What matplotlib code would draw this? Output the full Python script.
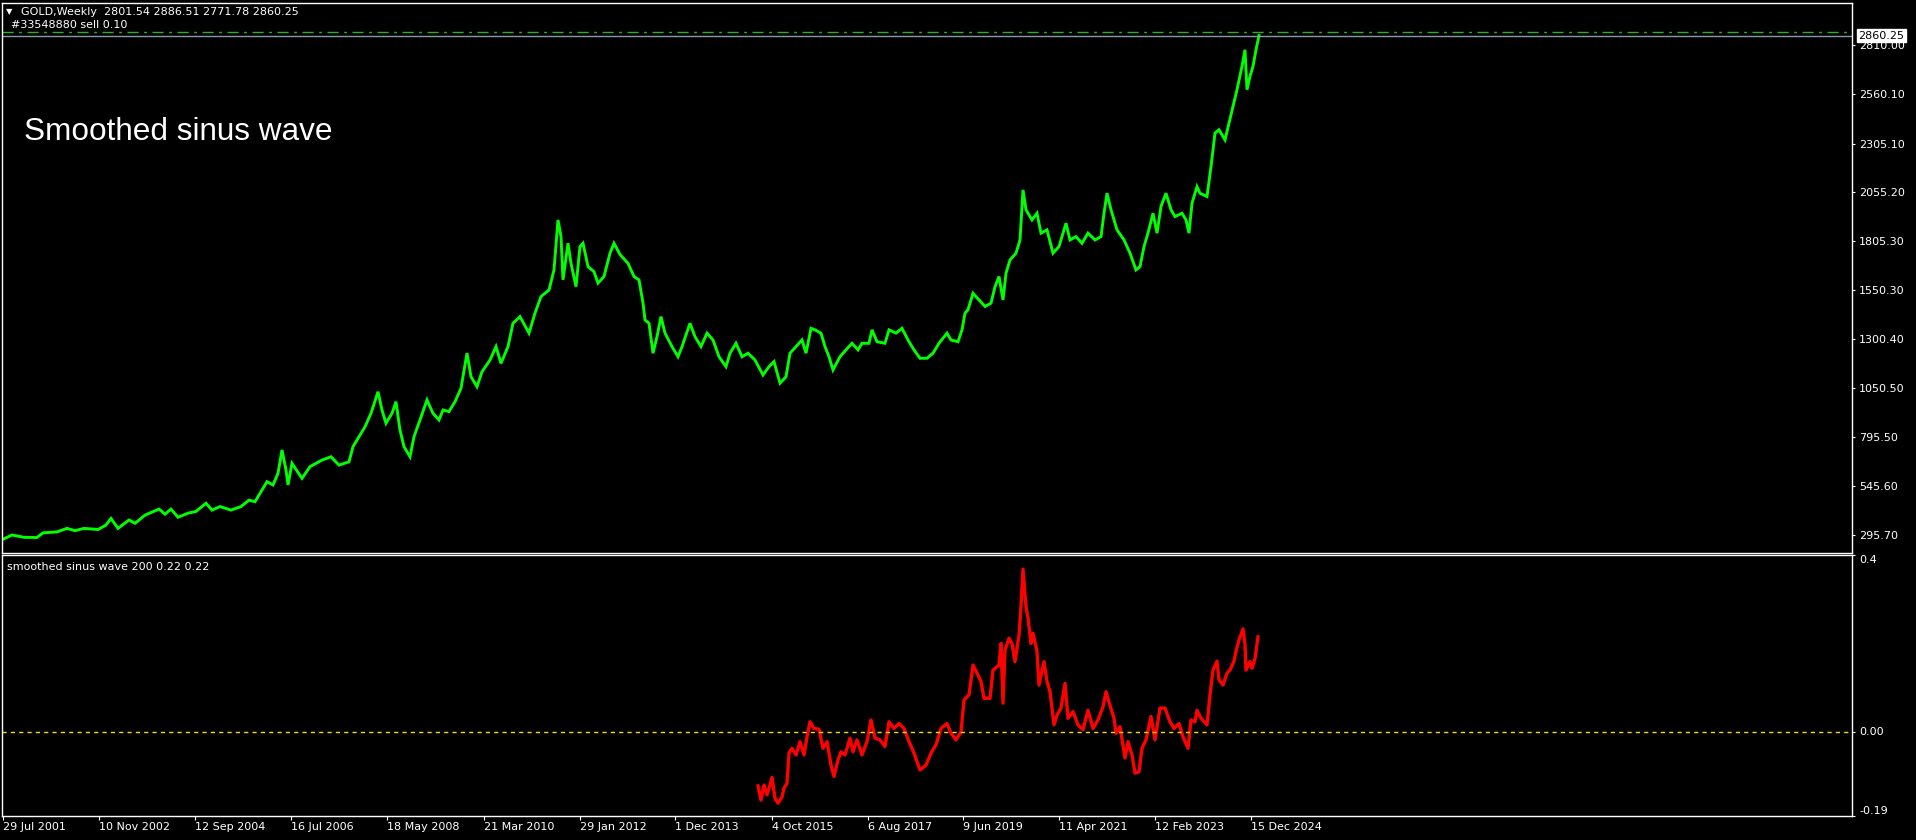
import matplotlib
matplotlib.use("Agg")
from matplotlib import pyplot as plt

# weekly gold: bar position on the chart (weeks from left edge) and price
gold_week = [3, 12, 18, 24, 37, 43, 57, 67, 75, 84, 98, 106, 111, 118, 129, 135, 145, 159, 165, 171,
             178, 188, 196, 206, 212, 220, 231, 241, 249, 255, 261, 267, 273, 278, 282, 286, 288, 292,
             302, 310, 322, 331, 339, 349, 353, 359, 365, 371, 378, 382, 386, 392, 396, 400, 404, 410,
             414, 420, 427, 433, 439, 443, 449, 455, 461, 467, 471, 477, 482, 490, 496, 501, 508, 513,
             520, 529, 535, 541, 549, 554, 558, 561, 563, 568, 571, 576, 580, 583, 588, 594, 598, 604,
             610, 614, 620, 628, 634, 639, 643, 645, 649, 653, 657, 661, 665, 672, 678, 682, 690, 695,
             701, 707, 713, 719, 726, 730, 736, 742, 748, 755, 763, 769, 774, 780, 786, 790, 796, 802,
             806, 811, 815, 821, 825, 829, 833, 840, 846, 852, 858, 862, 869, 872, 877, 885, 889, 896,
             902, 908, 914, 920, 927, 933, 939, 947, 951, 958, 962, 965, 968, 973, 979, 985, 991, 995,
             999, 1003, 1006, 1010, 1016, 1020, 1023, 1026, 1032, 1037, 1041, 1047, 1053, 1059, 1066,
             1070, 1076, 1082, 1088, 1095, 1101, 1104, 1107, 1111, 1117, 1124, 1130, 1136, 1140, 1144,
             1148, 1153, 1157, 1161, 1166, 1171, 1175, 1182, 1186, 1189, 1192, 1197, 1200, 1207, 1211,
             1215, 1219, 1225, 1229, 1233, 1237, 1242, 1245, 1247, 1250, 1253, 1256, 1259]
gold_close = [272, 294, 288, 282, 281, 305, 310, 328, 316, 328, 322, 345, 379, 328, 371, 354, 396, 427, 401, 427,
              385, 406, 415, 457, 422, 440, 422, 440, 473, 465, 516, 568, 551, 611, 731, 628, 551, 662,
              585, 645, 679, 696, 653, 670, 748, 799, 850, 919, 1030, 936, 868, 919, 979, 833, 748, 696,
              799, 885, 988, 919, 885, 936, 928, 979, 1048, 1228, 1107, 1056, 1133, 1193, 1262, 1176, 1262, 1382,
              1416, 1331, 1434, 1519, 1553, 1656, 1913, 1827, 1605, 1793, 1690, 1570, 1776, 1793, 1673, 1647, 1588, 1622,
              1742, 1793, 1735, 1690, 1622, 1605, 1485, 1399, 1382, 1228, 1313, 1416, 1331, 1262, 1210, 1262, 1382, 1313,
              1262, 1331, 1296, 1210, 1159, 1228, 1279, 1210, 1228, 1193, 1116, 1159, 1185, 1074, 1107, 1228, 1262, 1296,
              1228, 1356, 1348, 1331, 1262, 1210, 1142, 1210, 1245, 1279, 1245, 1279, 1279, 1348, 1287, 1279, 1348, 1331,
              1356, 1296, 1245, 1202, 1202, 1228, 1279, 1331, 1296, 1287, 1348, 1434, 1451, 1536, 1502, 1468, 1485, 1570,
              1622, 1502, 1639, 1707, 1742, 1810, 2067, 1965, 1913, 1947, 1845, 1862, 1742, 1776, 1896,
              1810, 1827, 1793, 1845, 1810, 1827, 1947, 2050, 1965, 1862, 1810, 1742, 1656, 1673, 1776,
              1845, 1947, 1845, 1982, 2050, 1965, 1930, 1947, 1913, 1845, 1999, 2084, 2050, 2033, 2187,
              2359, 2376, 2324, 2410, 2496, 2582, 2702, 2787, 2582, 2651, 2702, 2787, 2860.25]

# smoothed sinus wave indicator (lower window)
wave_week = [758, 761, 764, 767, 770, 772, 775, 778, 782, 784, 787, 789, 792, 796, 800, 804, 807, 810, 814,
             819, 823, 827, 831, 834, 838, 841, 845, 850, 853, 857, 862, 867, 871, 875, 880, 885, 889,
             894, 899, 904, 909, 914, 920, 926, 931, 936, 941, 947, 951, 956, 961, 964, 969, 973, 977,
             981, 984, 990, 993, 999, 1001, 1003, 1005, 1009, 1012, 1015, 1019, 1021, 1023, 1026, 1028,
             1031, 1033, 1037, 1039, 1044, 1047, 1050, 1054, 1057, 1061, 1065, 1068, 1073, 1078, 1083,
             1088, 1093, 1098, 1103, 1106, 1110, 1114, 1116, 1120, 1125, 1128, 1132, 1135, 1139, 1142,
             1146, 1151, 1155, 1160, 1165, 1170, 1174, 1179, 1183, 1188, 1191, 1195, 1197, 1201, 1207,
             1210, 1213, 1217, 1219, 1223, 1227, 1230, 1234, 1236, 1239, 1243, 1245, 1246, 1250, 1252,
             1255, 1258]
wave_value = [-0.122, -0.154, -0.120, -0.142, -0.120, -0.103, -0.150, -0.161, -0.147, -0.127, -0.116, -0.048,
              -0.037, -0.052, -0.022, -0.052, -0.011, 0.023, 0.008, 0.006, -0.037, -0.022, -0.075, -0.101,
              -0.063, -0.045, -0.052, -0.014, -0.045, -0.018, -0.052, -0.022, 0.027, -0.014, -0.018, -0.033,
              0.023, 0.008, 0.019, 0.008, -0.022, -0.048, -0.086, -0.075, -0.048, -0.029, 0.008, 0.019,
              -0.003, -0.018, 0.000, 0.072, 0.084, 0.151, 0.133, 0.114, 0.076, 0.076, 0.140, 0.151, 0.200,
              0.065, 0.185, 0.212, 0.200, 0.159, 0.219, 0.283, 0.368, 0.283, 0.257, 0.200, 0.223, 0.182,
              0.106, 0.159, 0.114, 0.091, 0.016, 0.038, 0.054, 0.110, 0.031, 0.046, 0.016, 0.005, 0.049,
              0.008, 0.027, 0.057, 0.091, 0.060, 0.031, -0.003, 0.012, -0.059, -0.022, -0.052, -0.093,
              -0.090, -0.037, -0.018, 0.035, -0.018, 0.054, 0.054, 0.023, 0.008, 0.019, -0.011, -0.037,
              0.027, 0.023, 0.049, 0.031, 0.016, 0.084, 0.140, 0.160, 0.118, 0.106, 0.133, 0.140, 0.160,
              0.182, 0.208, 0.233, 0.198, 0.140, 0.159, 0.144, 0.166, 0.215]

price_ticks = [295.70, 545.60, 795.50, 1050.50, 1300.40, 1550.30, 1805.30, 2055.20, 2305.10, 2560.10, 2810.00]
date_ticks = [3, 99, 195, 291, 387, 484, 580, 675, 772, 868, 963, 1059, 1155, 1251]
date_labels = ["29 Jul 2001", "10 Nov 2002", "12 Sep 2004", "16 Jul 2006", "18 May 2008", "21 Mar 2010",
               "29 Jan 2012", "1 Dec 2013", "4 Oct 2015", "6 Aug 2017", "9 Jun 2019", "11 Apr 2021",
               "12 Feb 2023", "15 Dec 2024"]
wave_ticks = [0.4, 0.0, -0.19]
wave_labels = ["0.4", "0.00", "-0.19"]
last_price = 2860.25
order_price = 2878

W, H = 1916, 840
fig = plt.figure(figsize=(W / 100, H / 100), dpi=100, facecolor="black")


def box(x0, y0, x1, y1):
    return [x0 / W, 1 - y1 / H, (x1 - x0) / W, (y1 - y0) / H]


def px(x, y):
    return x / W, 1 - y / H


ax = fig.add_axes(box(2, 2.5, 1852, 552.5))
ax2 = fig.add_axes(box(2, 555, 1852, 816))

for a in (ax, ax2):
    a.set_facecolor("black")
    a.set_xlim(2, 1852)
    for s in a.spines.values():
        s.set_color("white")
        s.set_linewidth(1)

# main price window
ax.plot(gold_week, gold_close, color="#00ff00", lw=2.1, solid_joinstyle="miter")
ax.axhline(order_price, color="#22b422", lw=1, ls=(0, (8, 4, 2, 4)))
ax.axhline(last_price, color="#8a9aa8", lw=1)
ax.set_ylim(204, 3030)
ax.set_xticks([])
ax.yaxis.tick_right()
ax.set_yticks(price_ticks)
ax.set_yticklabels(["%.2f" % v for v in price_ticks])
ax.tick_params(axis="y", colors="white", labelcolor="white", labelsize=8, length=2, pad=3, direction="out")
ax.text(1.0035, last_price, "%.2f" % last_price, transform=ax.get_yaxis_transform(),
        ha="left", va="center", fontsize=8, color="black", zorder=10, clip_on=False,
        bbox=dict(facecolor="white", edgecolor="white", pad=1.2))

ax.text(0.012, 0.765, "Smoothed sinus wave", transform=ax.transAxes, fontsize=22.7,
        family="Liberation Sans", color="white", va="center", ha="left")

# indicator window
ax2.plot(wave_week, wave_value, color="#ff0000", lw=2.4)
ax2.axhline(0, color="#ffd700", lw=1, ls=(0, (3, 3)))
ax2.set_ylim(-0.19, 0.40)
ax2.yaxis.tick_right()
ax2.set_yticks(wave_ticks)
ax2.set_yticklabels([])
ax2.tick_params(axis="y", colors="white", length=2, direction="out")
yt = ax2.get_yaxis_transform()
for v, lab, va in zip(wave_ticks, wave_labels, ["top", "center", "bottom"]):
    ax2.text(1.0038, v, lab, transform=yt, ha="left", va=va, fontsize=8, color="white", clip_on=False)

ax2.set_xticks(date_ticks)
ax2.set_xticklabels(date_labels)
ax2.tick_params(axis="x", colors="white", labelcolor="white", labelsize=8, length=3, pad=1.5, direction="out")
for lbl in ax2.get_xticklabels():
    lbl.set_ha("left")

# header texts
fig.text(*px(6, 12), "\u25bc", fontsize=6, color="white", va="center", ha="left")
fig.text(*px(21, 12), "GOLD,Weekly  2801.54 2886.51 2771.78 2860.25", fontsize=8, color="white",
         va="center", ha="left")
fig.text(*px(11, 24.5), "#33548880 sell 0.10", fontsize=8, color="white", va="center", ha="left")
fig.text(*px(7, 567), "smoothed sinus wave 200 0.22 0.22", fontsize=8, color="white", va="center", ha="left")

fig.savefig("out.png", dpi=100, facecolor="black")
